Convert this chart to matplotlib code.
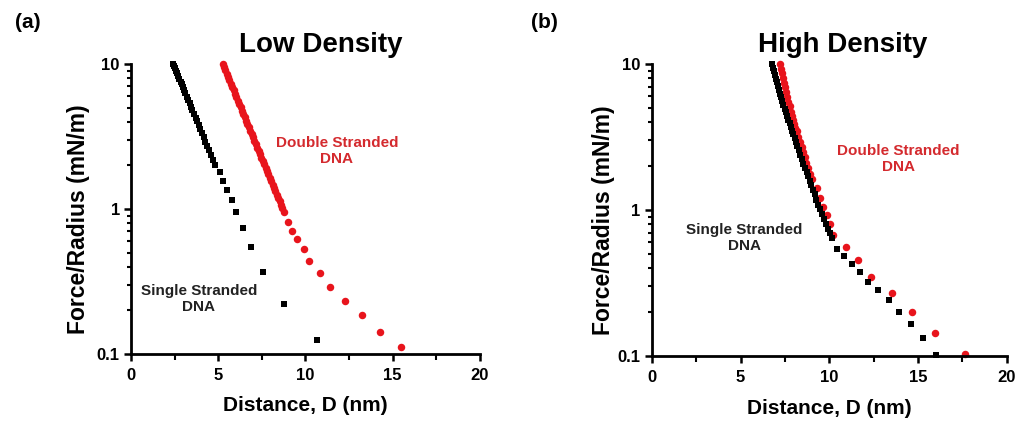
import matplotlib
matplotlib.use("Agg")
import matplotlib.pyplot as plt
from matplotlib.ticker import FixedLocator, LogLocator, NullFormatter

plt.rcParams["font.family"] = ["Liberation Sans", "DejaVu Sans"]
plt.rcParams["font.weight"] = "bold"

# ==========================
# DATA
# ==========================

# (a) low density - single stranded
low_ss_x = [2.40, 2.46, 2.52, 2.58, 2.64, 2.70, 2.77, 2.84, 2.91, 2.98,
            3.05, 3.12, 3.20, 3.28, 3.36, 3.44, 3.52, 3.61, 3.70, 3.79,
            3.88, 3.97, 4.07, 4.17, 4.27, 4.37, 4.48, 4.59, 4.70, 4.82,
            5.09, 5.30, 5.50, 5.77, 6.02, 6.40, 6.88, 7.58, 8.79, 10.64]
low_ss_y = [10.0, 9.73, 9.35, 8.99, 8.64, 8.29, 7.91, 7.55, 7.21, 6.88,
            6.57, 6.27, 5.94, 5.63, 5.34, 5.06, 4.80, 4.52, 4.25, 4.01,
            3.77, 3.55, 3.32, 3.11, 2.91, 2.72, 2.53, 2.35, 2.18, 2.01,
            1.79, 1.55, 1.35, 1.15, 0.95, 0.74, 0.55, 0.37, 0.223, 0.125]

# (a) low density - double stranded
low_ds_x = [5.25, 5.32, 5.40, 5.48, 5.56, 5.64, 5.72, 5.80, 5.88, 5.96,
            6.04, 6.12, 6.20, 6.28, 6.36, 6.44, 6.52, 6.60, 6.68, 6.76,
            6.84, 6.92, 7.00, 7.08, 7.16, 7.24, 7.32, 7.40, 7.48, 7.56,
            7.64, 7.72, 7.80, 7.88, 7.96, 8.04, 8.12, 8.20, 8.28, 8.36,
            8.44, 8.52, 8.60, 8.68, 8.76,
            9.02, 9.25, 9.53, 9.93, 10.22, 10.83, 11.40, 12.26, 13.26, 14.27, 15.47]
low_ds_y = [10.0, 9.54, 9.05, 8.57, 8.13, 7.71, 7.31, 6.93, 6.57, 6.22,
            5.90, 5.59, 5.30, 5.03, 4.76, 4.52, 4.28, 4.06, 3.85, 3.65,
            3.46, 3.28, 3.11, 2.95, 2.79, 2.65, 2.51, 2.38, 2.25, 2.14,
            2.03, 1.92, 1.82, 1.73, 1.64, 1.55, 1.47, 1.40, 1.32, 1.25,
            1.19, 1.13, 1.07, 1.01, 0.96,
            0.81, 0.705, 0.617, 0.532, 0.438, 0.364, 0.292, 0.232, 0.185, 0.143, 0.112]

# (b) high density - single stranded
high_ss_x = [6.76, 6.82, 6.88, 6.94, 7.00, 7.06, 7.12, 7.18, 7.24, 7.30,
             7.36, 7.42, 7.49, 7.56, 7.63, 7.70, 7.77, 7.84, 7.91, 7.98,
             8.05, 8.12, 8.19, 8.27, 8.36, 8.45, 8.54, 8.63, 8.72, 8.81,
             8.90, 8.99, 9.08, 9.18, 9.28, 9.39, 9.50, 9.61, 9.72, 9.83,
             9.94, 10.04, 10.14,
             10.46, 10.83, 11.30, 11.74, 12.20, 12.73, 13.39, 13.95, 14.61, 15.30, 16.02]
high_ss_y = [10.0, 9.43, 8.90, 8.39, 7.91, 7.46, 7.04, 6.64, 6.26, 5.90,
             5.57, 5.25, 4.95, 4.67, 4.41, 4.16, 3.92, 3.70, 3.49, 3.29,
             3.10, 2.92, 2.76, 2.58, 2.39, 2.23, 2.08, 1.94, 1.82, 1.70,
             1.58, 1.48, 1.38, 1.28, 1.18, 1.09, 1.01, 0.934, 0.865, 0.800,
             0.741, 0.691, 0.645,
             0.54, 0.484, 0.429, 0.376, 0.324, 0.284, 0.242, 0.202, 0.165, 0.133, 0.1016]

# (b) high density - double stranded
high_ds_x = [7.22, 7.28, 7.34, 7.40, 7.46, 7.52, 7.58, 7.64, 7.70, 7.76,
             7.83, 7.89, 7.95, 8.02, 8.09, 8.16, 8.26, 8.35, 8.44, 8.53,
             8.62, 8.71, 8.80, 8.90,
             9.00, 9.30, 9.48, 9.67, 9.86, 10.05, 10.22, 10.95, 11.60, 12.34,
             13.52, 14.65, 15.96, 17.65]
high_ds_y = [10.0, 9.29, 8.62, 8.00, 7.43, 6.90, 6.40, 5.94, 5.52, 5.12,
             4.70, 4.37, 4.14, 3.90, 3.66, 3.45, 3.16, 2.92, 2.69, 2.48,
             2.29, 2.11, 1.94, 1.77,
             1.62, 1.42, 1.21, 1.05, 0.93, 0.80, 0.67, 0.557, 0.455, 0.348,
             0.272, 0.201, 0.144, 0.103]

x_ticks = [0, 5, 10, 15, 20]
y_ticks = [0.1, 1, 10]
y_tick_labels = ["0.1", "1", "10"]

RED = "#e8141c"
TEXT_RED = "#d42a2e"


def style_axes(ax, ylabel_x):
    ax.set_yscale("log")
    ax.set_xlim(0, 20)
    ax.set_ylim(0.1, 10)
    ax.spines["top"].set_visible(False)
    ax.spines["right"].set_visible(False)
    ax.spines["left"].set_linewidth(2)
    ax.spines["bottom"].set_linewidth(2)
    ax.set_xticks(x_ticks)
    ax.xaxis.set_minor_locator(FixedLocator([2.5, 7.5, 12.5, 17.5]))
    ax.set_yticks(y_ticks)
    ax.set_yticklabels(y_tick_labels)
    ax.yaxis.set_minor_locator(LogLocator(base=10, subs=range(2, 10)))
    ax.yaxis.set_minor_formatter(NullFormatter())
    ax.tick_params(which="major", length=5, width=1.8, labelsize=12)
    ax.tick_params(axis="x", which="major", pad=5)
    ax.tick_params(axis="y", which="major", pad=3)
    ax.tick_params(which="minor", length=4, width=1.5)
    ax.tick_params(axis="y", which="minor", length=3)
    for lbl in ax.get_xticklabels() + ax.get_yticklabels():
        lbl.set_fontweight("bold")
    ax.set_xlabel("Distance, D (nm)", fontsize=15, fontweight="bold")
    ax.set_ylabel("Force/Radius (mN/m)", fontsize=16.5, fontweight="bold")
    ax.xaxis.set_label_coords(0.5, -0.145)
    ax.yaxis.set_label_coords(ylabel_x, 0.465)


fig = plt.figure(figsize=(10.2, 4.23), dpi=100)

ax1 = fig.add_axes([0.1284, 0.163, 0.342, 0.686])
ax2 = fig.add_axes([0.639, 0.158, 0.348, 0.691])

# ==========================
# LOW DENSITY
# ==========================

ax1.plot(low_ss_x, low_ss_y, "s", color="black", markersize=4.3,
         markeredgewidth=0, clip_on=False, zorder=3)
ax1.plot(low_ds_x, low_ds_y, "o", color=RED, markersize=5.4,
         markeredgewidth=0, clip_on=False, zorder=3)
style_axes(ax1, -0.117)

ax1.text(0.59, 0.70, "Double Stranded\nDNA", transform=ax1.transAxes,
         color=TEXT_RED, fontsize=11, fontweight="bold", ha="center", va="center")
ax1.text(0.195, 0.19, "Single Stranded\nDNA", transform=ax1.transAxes,
         color="#222222", fontsize=11, fontweight="bold", ha="center", va="center")

# ==========================
# HIGH DENSITY
# ==========================

ax2.plot(high_ss_x, high_ss_y, "s", color="black", markersize=4.3,
         markeredgewidth=0, clip_on=False, zorder=3)
ax2.plot(high_ds_x, high_ds_y, "o", color=RED, markersize=5.4,
         markeredgewidth=0, clip_on=False, zorder=2)
style_axes(ax2, -0.105)

ax2.text(0.695, 0.675, "Double Stranded\nDNA", transform=ax2.transAxes,
         color=TEXT_RED, fontsize=11, fontweight="bold", ha="center", va="center")
ax2.text(0.26, 0.405, "Single Stranded\nDNA", transform=ax2.transAxes,
         color="#222222", fontsize=11, fontweight="bold", ha="center", va="center")

# titles and panel letters
fig.text(321 / 1020, 1 - 45 / 423, "Low Density", fontsize=20,
         fontweight="bold", ha="center", va="center")
fig.text(843 / 1020, 1 - 45 / 423, "High Density", fontsize=20,
         fontweight="bold", ha="center", va="center")
fig.text(28 / 1020, 1 - 22 / 423, "(a)", fontsize=15,
         fontweight="bold", ha="center", va="center")
fig.text(544 / 1020, 1 - 22 / 423, "(b)", fontsize=15,
         fontweight="bold", ha="center", va="center")

fig.savefig("out.png", dpi=100, facecolor="white")
